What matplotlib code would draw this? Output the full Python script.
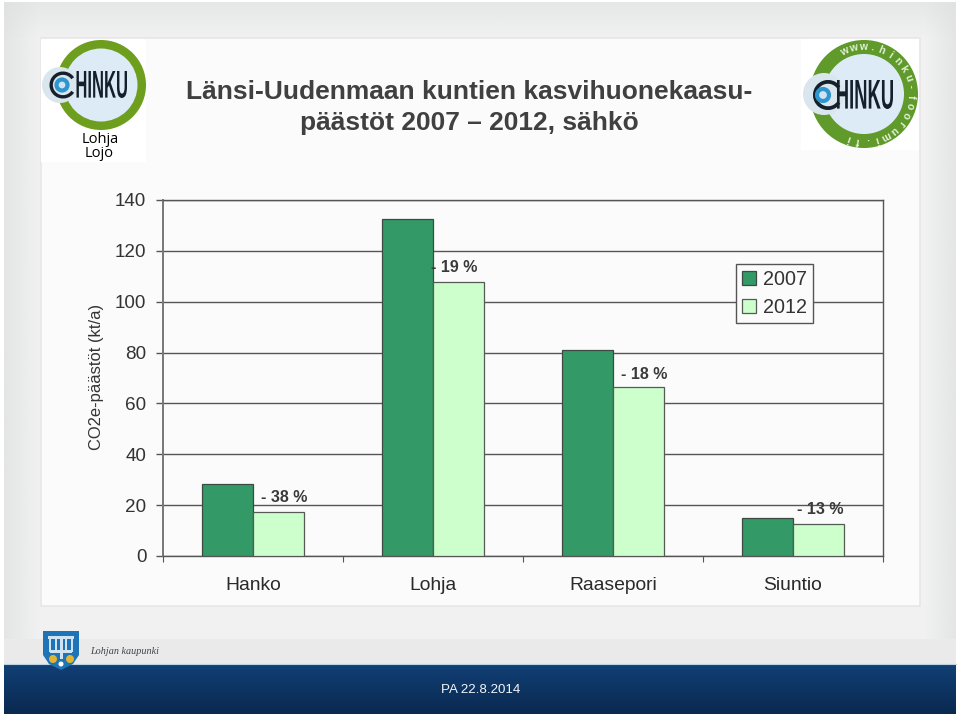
import numpy as np
import matplotlib
matplotlib.use("Agg")
import matplotlib.pyplot as plt
from matplotlib.patches import Rectangle, Circle, Polygon, Wedge, PathPatch
from matplotlib.textpath import TextPath
from matplotlib.font_manager import FontProperties
from matplotlib.transforms import Affine2D
from matplotlib.colors import to_rgb

categories = ["Hanko", "Lohja", "Raasepori", "Siuntio"]
years = ["2007", "2012"]
values_2007 = [28.3, 132.5, 81.0, 14.9]
values_2012 = [17.5, 107.7, 66.5, 12.6]
change_labels = ["- 38 %", "- 19 %", "- 18 %", "- 13 %"]
change_y = [23.2, 113.3, 71.4, 18.3]
change_dx = [0.172, 0.117, 0.172, 0.15]
yticks = [0, 20, 40, 60, 80, 100, 120, 140]
title = "Länsi-Uudenmaan kuntien kasvihuonekaasu-\npäästöt 2007 – 2012, sähkö"
ylabel = "CO2e-päästöt (kt/a)"
footer = "PA 22.8.2014"

plt.rcParams["font.family"] = ["Liberation Sans", "DejaVu Sans"]
W, H = 960, 716
fig = plt.figure(figsize=(9.6, 7.16), dpi=100, facecolor="white")

# page backdrop, in pixel coordinates
bg = fig.add_axes([0, 0, 1, 1], zorder=0)
bg.axis("off")
def shade(extent, start, end, z=1):
    a = np.linspace(0, 1, 24)
    c0, c1 = np.array(to_rgb(start)), np.array(to_rgb(end))
    rgb = c0[None, :] * (1 - a[:, None]) + c1[None, :] * a[:, None]
    bg.imshow(rgb[:, None, :], extent=extent, aspect="auto", zorder=z, interpolation="bilinear")
def fade(extent, horizontal, colour, alpha0, z=1):
    a = np.linspace(alpha0, 0, 24)
    rgba = np.zeros((1, 24, 4) if horizontal else (24, 1, 4))
    rgba[..., :3] = to_rgb(colour)
    rgba[..., 3] = a.reshape(rgba.shape[:2])
    bg.imshow(rgba, extent=extent, aspect="auto", zorder=z, interpolation="bilinear")
bg.add_patch(Rectangle((4, 2), 952, 712, fc="#f0f1f0", ec="none", zorder=0.5))
fade((4, 40, 640, 2), True, "#dcdfde", 0.6)
fade((956, 925, 640, 2), True, "#dcdfde", 0.6)
fade((4, 956, 38, 2), False, "#dcdfde", 0.5)
bg.add_patch(Rectangle((41, 38), 879, 568, fc="#fbfbfb", ec="#e6e7e6", lw=1.2, zorder=2))
bg.add_patch(Rectangle((4, 639), 952, 25, fc="#e9eae9", ec="none", zorder=2))
shade((4, 956, 714, 664), "#113f75", "#0a2950", z=3)
bg.plot([4, 956], [664, 664], color="#bcd3e4", lw=0.8, zorder=4)

def squeezed(txt, x0, x1, y0, y1, colour, z):
    """Real text, condensed to fit the logo's narrow lettering."""
    tp = TextPath((0, 0), txt, size=10, prop=FontProperties(family="Liberation Sans", weight="bold"))
    b = tp.get_extents()
    tr = (Affine2D().translate(-b.x0, -b.y0).scale((x1 - x0) / b.width, -(y1 - y0) / b.height).translate(x0, y1))
    bg.add_patch(PathPatch(tr.transform_path(tp), fc=colour, ec="none", zorder=z))

def hinku(cx, cy, r, inner, ring, lens, lens_r, c_xy, c_r, o_xy, o_r, text_box):
    bg.add_patch(Circle((cx, cy), r, fc=ring, ec="none", zorder=4))
    bg.add_patch(Circle((cx, cy), inner, fc="#dcebf6", ec="none", zorder=5))
    bg.add_patch(Circle((lens, cy), lens_r, fc="#dae6ee", ec="none", zorder=5))
    bg.add_patch(Wedge(c_xy, c_r, 35, 325, width=c_r * 0.25, fc="#15202b", ec="none", zorder=6))
    bg.add_patch(Circle(o_xy, o_r, fc="#cfe4f2", ec="#2f95cf", lw=3, zorder=6))
    squeezed("HINKU", *text_box, "#14202a", 7)

# left logo
bg.add_patch(Rectangle((41, 39), 105, 123, fc="white", ec="none", zorder=3))
hinku(101, 85, 45, 36.5, "#6e9e1e", 60, 18, (63, 85), 13.5, (62, 85), 5.5, (76.5, 127, 71, 98))
bg.text(100, 139.5, "Lohja", fontsize=10.5, color="#000000", ha="center", va="center", zorder=6, family="Open Sans")
bg.text(99.5, 153.5, "Lojo", fontsize=10.5, color="#000000", ha="center", va="center", zorder=6, family="Open Sans")

# right logo
bg.add_patch(Rectangle((801, 39), 118, 111, fc="white", ec="none", zorder=3))
hinku(864, 94, 54, 40, "#5f9a2a", 824, 21, (828, 95), 15, (823, 95), 6, (837, 893, 80, 109))
for i, ch in enumerate("www.hinku-foorumi.fi"):
    a = np.deg2rad(-115 + i * 11.8)
    bg.text(864 + 47 * np.cos(a), 94 + 47 * np.sin(a), ch, fontsize=7.5, fontweight="bold", color="#e4efd8",
            rotation=-np.rad2deg(a) - 90, rotation_mode="anchor", ha="center", va="center", zorder=7)

# footer crest and text
bg.add_patch(Polygon([[43, 631], [79, 631], [79, 655], [73, 664], [61, 670], [49, 664], [43, 655]], fc="#1f74b8", ec="none", zorder=5))
bg.add_patch(Rectangle((48, 636), 26, 3, fc="#cfe3f2", ec="none", zorder=6))
for px in (50, 56, 66, 72):
    bg.add_patch(Rectangle((px - 1, 639), 2, 13, fc="#cfe3f2", ec="none", zorder=6))
bg.add_patch(Rectangle((60, 639), 2.5, 20, fc="#cfe3f2", ec="none", zorder=6))
bg.add_patch(Rectangle((50, 650), 22, 2.5, fc="#cfe3f2", ec="none", zorder=6))
bg.add_patch(Circle((53, 659), 4, fc="#e0b431", ec="none", zorder=6))
bg.add_patch(Circle((70, 659), 4, fc="#e0b431", ec="none", zorder=6))
bg.add_patch(Circle((61, 664), 2.5, fc="white", ec="none", zorder=6))
bg.text(90, 651.5, "Lohjan kaupunki", fontsize=7.3, family="Liberation Serif", style="italic", color="#3c4650", va="center", zorder=6)
bg.text(480.5, 690, footer, fontsize=9.6, color="#f2f5f8", ha="center", va="center", zorder=6)

# title
bg.text(469, 107.5, title, fontsize=19, fontweight="bold", color="#404040", ha="center", va="center", linespacing=1.38, zorder=6)
bg.text(96, 377, ylabel, fontsize=11.9, rotation=90, color="#333333", ha="center", va="center", zorder=6)
bg.set_xlim(0, W); bg.set_ylim(H, 0)

# chart
ax = fig.add_axes([163 / W, 1 - 556 / H, 720 / W, 356 / H], zorder=2)
ax.patch.set_alpha(0)
x = np.arange(len(categories))
width = 0.2855
ax.bar(x - width / 2, values_2007, width, color="#339966", edgecolor="#3c4a42", linewidth=0.9, label=years[0], zorder=3)
ax.bar(x + width / 2, values_2012, width, color="#ccffcc", edgecolor="#555a55", linewidth=0.9, label=years[1], zorder=3)
ax.set_xlim(-0.5, 3.5)
ax.set_ylim(0, 140)
ax.set_yticks(yticks)
ax.yaxis.grid(True, color="#555555", lw=1.0)
ax.set_axisbelow(True)
ax.set_xticks(np.arange(-0.5, 4), labels=[])
ax.set_xticks(x, labels=categories, minor=True)
ax.tick_params(axis="x", which="minor", length=0, pad=15, labelsize=13.9, labelcolor="#2a2a2a")
ax.tick_params(axis="x", which="major", length=4.3, direction="out", color="#555555")
ax.tick_params(axis="y", length=5, color="#555555", width=1, pad=7, labelsize=13.6, labelcolor="#333333")
for s in ax.spines.values():
    s.set_color("#555555"); s.set_linewidth(1.0)
ax.spines["left"].set_color("#777777"); ax.spines["left"].set_linewidth(1.4)
for xi, lab, yy, dx in zip(x, change_labels, change_y, change_dx):
    ax.text(xi + dx, yy, lab, fontsize=11.5, fontweight="bold", color="#3a3a3a", ha="center", va="center", zorder=5)

leg = ax.legend(loc="upper left", bbox_to_anchor=((736 - 163) / 720, (556 - 264) / 356), frameon=True, fancybox=False,
                edgecolor="#555555", facecolor="#fbfbfb", framealpha=1, fontsize=14.2, handlelength=0.72, handleheight=0.72,
                handletextpad=0.36, labelspacing=0.46, borderpad=0.3, borderaxespad=0, labelcolor="#333333")
leg.get_frame().set_linewidth(1.0)
leg.set_zorder(6)

fig.savefig("out.png", dpi=100)
